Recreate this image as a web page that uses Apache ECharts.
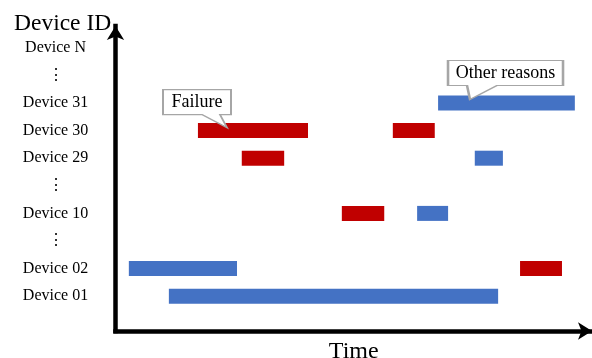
<!DOCTYPE html>
<html>
<head>
<meta charset="utf-8">
<script src="https://cdn.jsdelivr.net/npm/echarts@6/dist/echarts.min.js"></script>
<style>html,body{margin:0;padding:0;background:#fff}#c{width:592px;height:358px}</style>
</head>
<body>
<div id="c"></div>
<script>
// Device rows, bottom to top
const categories = ['Device 01', 'Device 02', '\u22EE', 'Device 10', '\u22EE', 'Device 29', 'Device 30', 'Device 31', '\u22EE', 'Device N'];
// [device, start time, end time]
const failureIntervals = [
  ['Device 30', 17.3, 40.4],
  ['Device 30', 58.2, 67.0],
  ['Device 29', 26.5, 35.4],
  ['Device 10', 47.5, 56.4],
  ['Device 02', 84.9, 93.7]
];
const otherIntervals = [
  ['Device 31', 67.7, 96.4],
  ['Device 29', 75.4, 81.3],
  ['Device 10', 63.3, 69.8],
  ['Device 02', 2.8, 25.5],
  ['Device 01', 11.2, 80.3]
];
// callout anchors [time, device, text]
const callouts = [
  [23.4, 'Device 30', 'Failure'],
  [74.4, 'Device 31', 'Other reasons']
];

const SERIF = '"Liberation Serif", "Times New Roman", "DejaVu Serif", serif';

function renderBar(params, api) {
  const y = api.value(0);
  const s = api.coord([api.value(1), y]);
  const e = api.coord([api.value(2), y]);
  const h = 15;
  return {
    type: 'rect',
    shape: { x: s[0], y: s[1] - h / 2, width: e[0] - s[0], height: h },
    style: { fill: api.visual('color') }
  };
}

const bubbleStyles = {
  'Failure': {
    path: 'path://M0 0 L68 0 L68 25 L57 25 L64 38 L39 25 L0 25 Z',
    size: [68, 38], offset: [-30, -22], labelOffset: [0, -6.5]
  },
  'Other reasons': {
    path: 'path://M0 0 L115 0 L115 25 L49 25 L22 39 L19 25 L0 25 Z',
    size: [115, 39], offset: [35.5, -23], labelOffset: [0, -7]
  }
};

const chart = echarts.init(document.getElementById('c'), null, { renderer: 'canvas' });
chart.setOption({
  animation: false,
  backgroundColor: '#ffffff',
  title: {
    text: 'Device ID', left: 9, top: 7,
    textStyle: { fontFamily: SERIF, fontSize: 23.5, fontWeight: 'normal', color: '#000' }
  },
  grid: [
    { left: 115.5, right: 0, top: 34, bottom: 48, outerBoundsMode: 'none', containLabel: false },
    { left: 115.5, right: 0, top: 26, bottom: 27, outerBoundsMode: 'none', containLabel: false }
  ],
  xAxis: [
    { gridIndex: 0, type: 'value', min: 0, max: 100, show: false },
    {
      gridIndex: 1, type: 'value', min: 0, max: 100,
      axisLine: { show: true, onZero: false, symbol: ['none', 'arrow'], symbolSize: [13, 14],
        lineStyle: { color: '#000', width: 4.5, cap: 'square' } },
      axisTick: { show: false }, axisLabel: { show: false }, splitLine: { show: false },
      name: 'Time', nameLocation: 'middle', nameGap: 9,
      nameTextStyle: { fontFamily: SERIF, fontSize: 24, color: '#000', verticalAlign: 'top' }
    }
  ],
  yAxis: [
    {
      gridIndex: 0, type: 'category', data: categories,
      axisLine: { show: false }, axisTick: { show: false }, splitLine: { show: false },
      axisLabel: { align: 'center', margin: 60, fontFamily: SERIF, fontSize: 16, color: '#000', interval: 0 }
    },
    {
      gridIndex: 1, type: 'value', min: 0, max: 1,
      axisLine: { show: true, onZero: false, symbol: ['none', 'arrow'], symbolSize: [13, 14],
        lineStyle: { color: '#000', width: 4.5, cap: 'square' } },
      axisTick: { show: false }, axisLabel: { show: false }, splitLine: { show: false }
    }
  ],
  series: [
    {
      name: 'Failure', type: 'custom', xAxisIndex: 0, yAxisIndex: 0,
      renderItem: renderBar, encode: { x: [1, 2], y: 0 },
      itemStyle: { color: '#C00000' }, data: failureIntervals, z: 2
    },
    {
      name: 'Other reasons', type: 'custom', xAxisIndex: 0, yAxisIndex: 0,
      renderItem: renderBar, encode: { x: [1, 2], y: 0 },
      itemStyle: { color: '#4472C4' }, data: otherIntervals, z: 2
    },
    {
      name: 'callouts', type: 'scatter', xAxisIndex: 0, yAxisIndex: 0, z: 5,
      data: callouts.map(c => {
        const b = bubbleStyles[c[2]];
        return {
          value: [c[0], c[1]], name: c[2],
          symbol: b.path, symbolSize: b.size, symbolOffset: b.offset,
          label: { show: true, position: 'inside', formatter: c[2], offset: b.labelOffset,
            fontFamily: SERIF, fontSize: 18, color: '#000' }
        };
      }),
      itemStyle: { color: '#ffffff', borderColor: '#a6a6a6', borderWidth: 1.5, opacity: 1 },
      emphasis: { disabled: true }
    }
  ]
});
</script>
</body>
</html>
